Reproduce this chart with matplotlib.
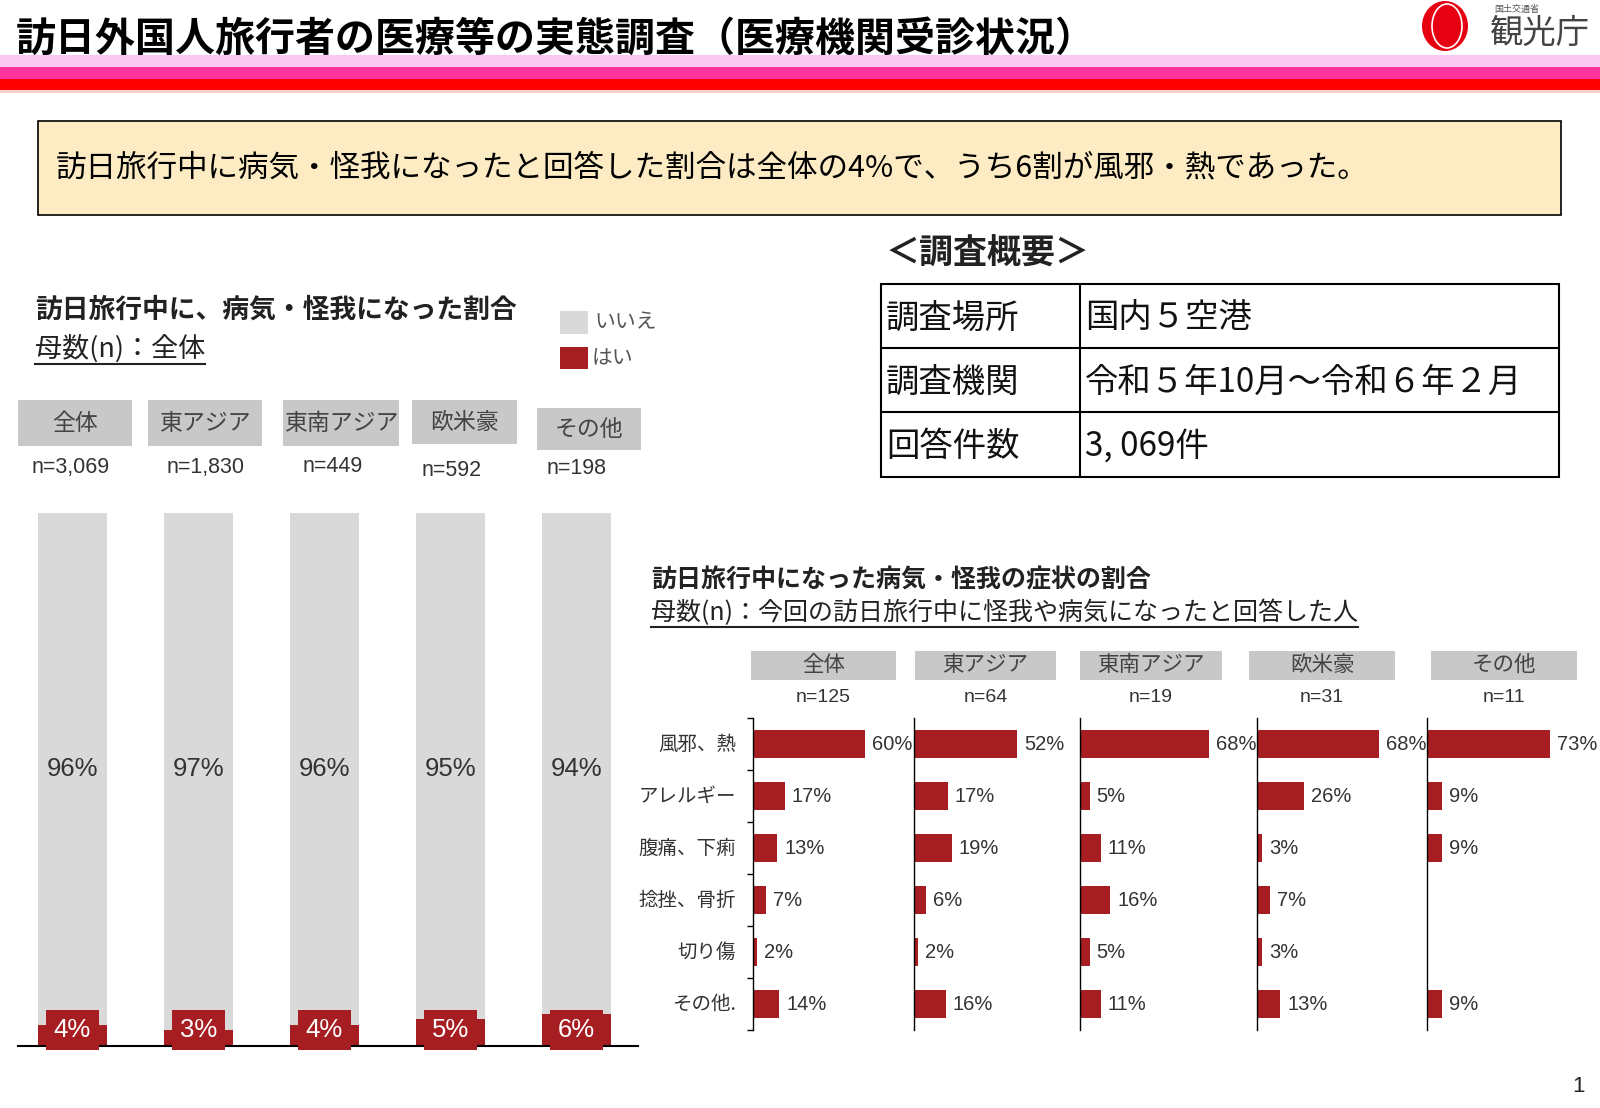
#
#  plot.py
#  訪日外国人旅行者の医療等の実態調査 - recreate the slide as one figure
#
import numpy as np
import matplotlib
matplotlib.use('Agg')
import matplotlib.pyplot as plt
from matplotlib.patches import Rectangle, Ellipse

plt.rcParams['font.family'] = ['Noto Sans CJK JP', 'DejaVu Sans']
NUMFONT = ['Liberation Sans', 'Noto Sans CJK JP']

W, H = 1600, 1108

#------------- data -------------------------------------------
regions = ['全体', '東アジア', '東南アジア', '欧米豪', 'その他']
n_all = ['n=3,069', 'n=1,830', 'n=449', 'n=592', 'n=198']
yes_pct = [4, 3, 4, 5, 6]
no_pct = [96, 97, 96, 95, 94]

symptoms = ['風邪、熱', 'アレルギー', '腹痛、下痢', '捻挫、骨折', '切り傷', 'その他.']
n_sick = ['n=125', 'n=64', 'n=19', 'n=31', 'n=11']
sym_all = [60, 17, 13, 7, 2, 14]
sym_east = [52, 17, 19, 6, 2, 16]
sym_southeast = [68, 5, 11, 16, 5, 11]
sym_west = [68, 26, 3, 7, 3, 13]
sym_other = [73, 9, 9, None, None, 9]

table_keys = ['調査場所', '調査機関', '回答件数']
table_vals = ['国内５空港', '令和５年10月～令和６年２月', '3, 069件']

RED = '#A61E22'
GRAY = '#D9D9D9'
BOXGRAY = '#C8C8C8'
TXT = '#333333'

#------------- figure and a pixel-coordinate background axes ---
fig = plt.figure(figsize=(W / 100, H / 100), dpi=100)
bg = fig.add_axes([0, 0, 1, 1])
bg.set_xlim(0, W)
bg.set_ylim(H, 0)
bg.axis('off')


def px_axes(left, top, right, bottom):
    a = fig.add_axes([left / W, 1 - bottom / H, (right - left) / W, (bottom - top) / H])
    a.set_facecolor('none')
    return a


def rect(x0, y0, x1, y1, **kw):
    bg.add_patch(Rectangle((x0, y0), x1 - x0, y1 - y0, **kw))


# header bands
rect(0, 55, W, 67, color='#F9C8F0', lw=0)
rect(0, 67, W, 79, color='#FF3399', lw=0)
rect(0, 79, W, 90, color='#FF0000', lw=0)
rect(0, 90, W, 93, color='#F8D0C8', lw=0)
bg.text(16, 39, '訪日外国人旅行者の医療等の実態調査（医療機関受診状況）', fontsize=28.8,
        fontweight='bold', va='center', ha='left', color='black')

# logo
bg.add_patch(Ellipse((1445, 26), 46, 50, color='#E60012', lw=0))
bg.add_patch(Ellipse((1447, 26), 30, 44, fill=False, ec='white', lw=1.2))
bg.text(1494, 9, '国土交通省', fontsize=6.5, color='#555555', va='center')
bg.text(1490, 33, '観光庁', fontsize=24, color='#444444', va='center')

# summary box
rect(38, 121, 1561, 215, fc='#FDEBC4', ec='black', lw=1.2)
bg.text(56, 168, '訪日旅行中に病気・怪我になったと回答した割合は全体の4%で、うち6割が風邪・熱であった。',
        fontsize=22, va='center', color='black')

underlines = []

#------------- left chart ---------------------------------------
bg.text(35, 310, '訪日旅行中に、病気・怪我になった割合', fontsize=19.3, fontweight='bold',
        va='center', color='#222222')
t = bg.text(35, 349, '母数(n)：全体', fontsize=19.5, va='center', color='#222222')
underlines.append(t)

rect(560, 311, 588, 334, color=GRAY, lw=0)
rect(560, 347, 588, 369, color=RED, lw=0)
bg.text(594, 322, 'いいえ', fontsize=15, va='center', color='#555555')
bg.text(592, 358, 'はい', fontsize=15, va='center', color='#555555')

left_boxes = [(18, 132, 400, 446), (148, 262, 400, 446), (283, 399, 400, 446),
              (412, 517, 400, 444), (537, 641, 408, 450)]
n_xc = [71, 206, 333, 452, 577]
n_yc = [467, 467, 467, 470, 468]
for (x0, x1, y0, y1), name, n, nx, ny in zip(left_boxes, regions, n_all, n_xc, n_yc):
    rect(x0, y0, x1, y1, color=BOXGRAY, lw=0)
    bg.text((x0 + x1) / 2, (y0 + y1) / 2, name, fontsize=16.5, ha='center', va='center',
            color='#444444')
    bg.text(nx, ny, n, fontsize=15.5, ha='center', va='center',
            color=TXT, family=NUMFONT)

axl = px_axes(18, 513, 638, 1046)
x = np.arange(len(regions))
axl.bar(x, yes_pct, width=0.55, color=RED)
axl.bar(x, no_pct, width=0.55, bottom=yes_pct, color=GRAY)
for xi, y, nv in zip(x, yes_pct, no_pct):
    axl.text(xi, 52, f'{nv}%', ha='center', va='center', fontsize=18.5,
             color=TXT, family=NUMFONT)
    axl.annotate(f'{y}%', (xi, 0), xytext=(0, 11.5), textcoords='offset points',
                 ha='center', va='center', fontsize=18.5, color='white', family=NUMFONT,
                 bbox=dict(boxstyle='square,pad=0.3', fc=RED, ec='none'))
axl.set_xlim(-0.43, 4.49)
axl.set_ylim(0, 100)
for s in ['top', 'right', 'left']:
    axl.spines[s].set_visible(False)
axl.spines['bottom'].set_linewidth(1.5)
axl.set_xticks([])
axl.set_yticks([])

#------------- survey outline table -----------------------------
bg.text(886, 253, '＜調査概要＞', fontsize=24.5, fontweight='bold', va='center', color='#222222')
rect(881, 284, 1559, 477, fill=False, ec='black', lw=1.5)
bg.plot([1080, 1080], [284, 477], color='black', lw=1.5)
row_y = [284, 348, 412, 477]
for yy in row_y[1:-1]:
    bg.plot([881, 1559], [yy, yy], color='black', lw=1.5)
for i, (k, v) in enumerate(zip(table_keys, table_vals)):
    yc = (row_y[i] + row_y[i + 1]) / 2 + 2
    bg.text(886, yc, k, fontsize=24, va='center', color='#111111')
    bg.text(1085, yc, v, fontsize=24, va='center', color='#111111')

#------------- right chart --------------------------------------
bg.text(651, 580, '訪日旅行中になった病気・怪我の症状の割合', fontsize=18, fontweight='bold',
        va='center', color='#222222')
t = bg.text(651, 613, '母数(n)：今回の訪日旅行中に怪我や病気になったと回答した人', fontsize=18,
            va='center', color='#222222')
underlines.append(t)

right_boxes = [(751, 896), (915, 1056), (1080, 1222), (1249, 1395), (1431, 1577)]
for (x0, x1), name, n in zip(right_boxes, regions, n_sick):
    rect(x0, 651, x1, 680, color=BOXGRAY, lw=0)
    bg.text((x0 + x1) / 2, 665, name, fontsize=15.5, ha='center', va='center', color='#444444')
    bg.text((x0 + x1) / 2, 697, n, fontsize=14, ha='center', va='center',
            color=TXT, family=NUMFONT)

series = [sym_all, sym_east, sym_southeast, sym_west, sym_other]
panel_left = [753, 914, 1080, 1257, 1427]
panel_scale = [1.87, 1.98, 1.90, 1.80, 1.68]   # px per percent
yrow = np.arange(len(symptoms))
for k, (vals, lft, sc) in enumerate(zip(series, panel_left, panel_scale)):
    ax = px_axes(lft, 718, lft + 100 * sc, 1030)
    for yi, v in zip(yrow, vals):
        if v is None:
            continue
        ax.barh(yi, v, height=0.55, color=RED)
        ax.annotate(f'{v}%', (v, yi), xytext=(5, 0), textcoords='offset points',
                    ha='left', va='center', fontsize=14.5, color=TXT, family=NUMFONT)
    ax.set_xlim(0, 100)
    ax.set_ylim(5.5, -0.5)
    for s in ['top', 'right', 'bottom']:
        ax.spines[s].set_visible(False)
    ax.spines['left'].set_linewidth(1.0)
    ax.set_xticks([])
    if k == 0:
        ax.set_yticks(np.arange(-0.5, 6.0, 1.0))
        ax.tick_params(axis='y', length=4, width=1, labelleft=False)
        for yi, s in zip(yrow, symptoms):
            ax.annotate(s, (0, yi), xytext=(-12, 0), textcoords='offset points',
                        ha='right', va='center', fontsize=14, color=TXT)
    else:
        ax.set_yticks([])

# underline the "母数" subtitles
fig.canvas.draw()
for t in underlines:
    bb = t.get_window_extent()
    y = H - bb.y0 + 1
    bg.plot([bb.x0, bb.x1], [y, y], color='#222222', lw=1.5)

bg.text(1578, 1086, '1', fontsize=16, ha='center', va='center', color='#222222',
        family=NUMFONT)

fig.savefig('out.png', dpi=100)
